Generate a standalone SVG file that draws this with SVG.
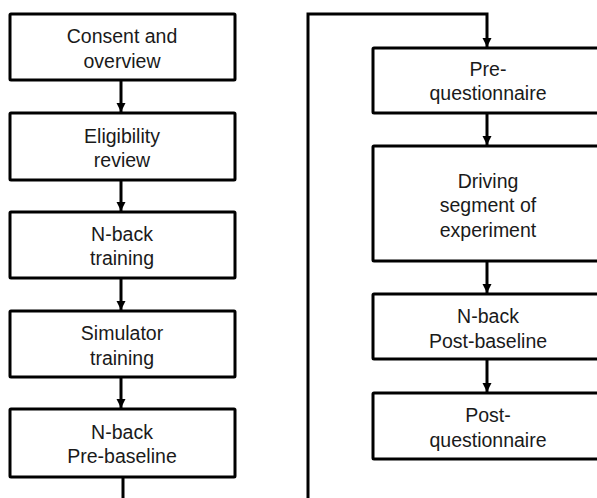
<svg xmlns="http://www.w3.org/2000/svg" width="597" height="498" viewBox="0 0 597 498">
<style>
.box{fill:#fff;stroke:#000;stroke-width:3}
.t{font-family:"Liberation Sans",Arial,sans-serif;font-size:19.5px;fill:#1a1a1a;text-anchor:middle}
.c{fill:none;stroke:#000;stroke-width:3}
</style>
<defs>
<marker id="ah" markerUnits="userSpaceOnUse" markerWidth="10" markerHeight="10" viewBox="0 0 10 10" refX="9" refY="5" orient="auto">
<path d="M0,0.5 L9,5 L0,9.5 Z" fill="#000"/>
</marker>
</defs>
<rect width="597" height="498" fill="#fff"/>
<g id="connectors">
<line class="c" x1="121" y1="80" x2="121" y2="112" marker-end="url(#ah)"/>
<line class="c" x1="121" y1="180" x2="121" y2="211" marker-end="url(#ah)"/>
<line class="c" x1="121" y1="278" x2="121" y2="310" marker-end="url(#ah)"/>
<line class="c" x1="121" y1="377" x2="121" y2="408" marker-end="url(#ah)"/>
<path class="c" d="M123,477 V500"/>
<path class="c" d="M308,500 V14 H487 V47" marker-end="url(#ah)"/>
<line class="c" x1="487" y1="113" x2="487" y2="145" marker-end="url(#ah)"/>
<line class="c" x1="487" y1="261" x2="487" y2="293" marker-end="url(#ah)"/>
<line class="c" x1="487" y1="359" x2="487" y2="392" marker-end="url(#ah)"/>
</g>
<g id="n1"><rect class="box" x="10" y="14" width="225" height="66" rx="1"/><text class="t" x="122" y="43">Consent and</text><text class="t" x="122" y="68">overview</text></g>
<g id="n2"><rect class="box" x="10" y="113" width="225" height="67" rx="1"/><text class="t" x="122" y="143">Eligibility</text><text class="t" x="122" y="167">review</text></g>
<g id="n3"><rect class="box" x="10" y="212" width="225" height="66" rx="1"/><text class="t" x="122" y="241">N-back</text><text class="t" x="122" y="265">training</text></g>
<g id="n4"><rect class="box" x="10" y="311" width="225" height="66" rx="1"/><text class="t" x="122" y="340">Simulator</text><text class="t" x="122" y="365">training</text></g>
<g id="n5"><rect class="box" x="10" y="409" width="225" height="68" rx="1"/><text class="t" x="122" y="439">N-back</text><text class="t" x="122" y="463">Pre-baseline</text></g>
<g id="n6"><rect class="box" x="373" y="48" width="240" height="65" rx="1"/><text class="t" x="488" y="76">Pre-</text><text class="t" x="488" y="100">questionnaire</text></g>
<g id="n7"><rect class="box" x="373" y="146" width="240" height="115" rx="1"/><text class="t" x="488" y="188">Driving</text><text class="t" x="488" y="212">segment of</text><text class="t" x="488" y="237">experiment</text></g>
<g id="n8"><rect class="box" x="373" y="294" width="240" height="65" rx="1"/><text class="t" x="488" y="323">N-back</text><text class="t" x="488" y="348">Post-baseline</text></g>
<g id="n9"><rect class="box" x="373" y="393" width="240" height="66" rx="1"/><text class="t" x="488" y="422">Post-</text><text class="t" x="488" y="447">questionnaire</text></g>
</svg>
